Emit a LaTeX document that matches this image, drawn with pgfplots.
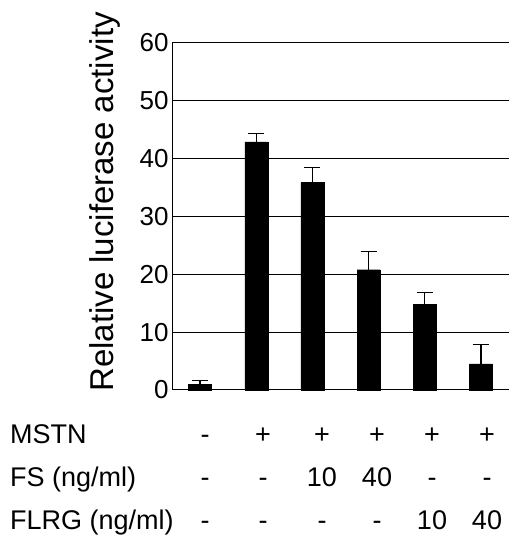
\documentclass[border=0pt]{standalone}
\usepackage{pgfplots}
\pgfplotsset{compat=1.18}
\usepackage{fontspec}
\setmainfont{Liberation Sans}
\begin{document}
\begin{tikzpicture}
\begin{axis}[
 at={(0pt,0pt)}, anchor=south west,
 scale only axis, width=337pt, height=347pt,
 xmin=-0.5, xmax=5.5, ymin=0, ymax=60,
 axis x line=bottom, axis y line=left,
 axis line style={-, line width=1pt, black},
 xtick=\empty, ytick={0,10,...,60},
 ymajorgrids, grid style={black, line width=1pt},
 major tick length=0pt,
 yticklabel style={font=\fontsize{26}{30}\selectfont},
 /pgf/number format/assume math mode=true,
 clip=false,
]
\addplot[ybar, bar width=23pt, fill=black, draw=black,
  error bars/.cd, y dir=plus, y explicit,
  error bar style={line width=1.2pt, black},
  error mark options={rotate=90, mark size=8pt, line width=1.2pt, black}]
 table[x=x, y=y, y error=e] {
 x y e
 0 1.0 0.7
 1 42.9 1.4
 2 35.9 2.6
 3 20.8 3.1
 4 14.8 2.1
 5 4.5 3.3
 };
\end{axis}
\node[rotate=90, font=\fontsize{33}{40}\selectfont] at (-67pt,188pt) {Relative luciferase activity};
\begin{scope}[every node/.style={font=\fontsize{27}{32}\selectfont, anchor=base, inner sep=0pt}]
\node[anchor=base west] at (-162pt,-53pt) {MSTN};
\node[anchor=base west] at (-162pt,-96pt) {FS (ng/ml)};
\node[anchor=base west] at (-162pt,-139pt) {FLRG (ng/ml)};
\foreach \x/\a/\b/\c in {33/-/-/-, 91/+/-/-, 150/+/10/-, 205/+/40/-, 260/+/-/10, 315/+/-/40} {
  \node at (\x pt,-53pt) {\a};
  \node at (\x pt,-96pt) {\b};
  \node at (\x pt,-139pt) {\c};
}
\end{scope}
\pgfresetboundingbox
\path[use as bounding box] (-172pt,-147pt) rectangle (337pt,390pt);
\end{tikzpicture}
\end{document}
